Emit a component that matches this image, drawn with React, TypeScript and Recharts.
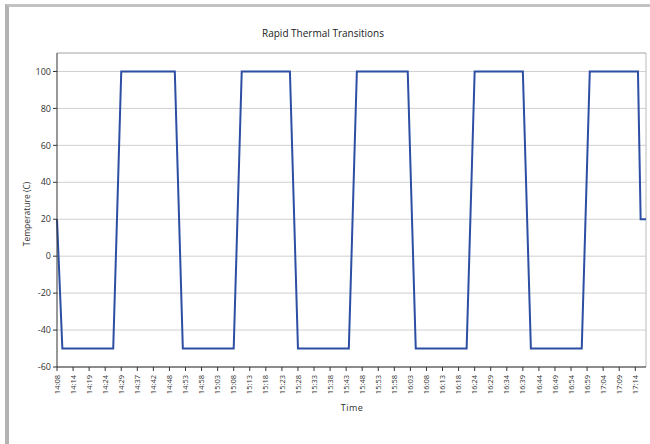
import { CartesianGrid, Line, LineChart, ReferenceLine, XAxis, YAxis } from "recharts";

// time stamps shown on the x axis, one every 6 samples
const timeLabels = [
  "14:08", "14:14", "14:19", "14:24", "14:29", "14:37", "14:42", "14:48", "14:53", "14:58",
  "15:03", "15:08", "15:13", "15:18", "15:23", "15:28", "15:33", "15:38", "15:43", "15:48",
  "15:53", "15:58", "16:03", "16:08", "16:13", "16:18", "16:24", "16:29", "16:34", "16:39",
  "16:44", "16:49", "16:54", "16:59", "17:04", "17:09", "17:14",
];
const samplesPerLabel = 6;

// temperature samples (C)
const temps = [
  20, -15,
  -50, -50, -50, -50, -50, -50, -50, -50, -50, -50, -50, -50, -50, -50, -50, -50, -50, -50, -50, -50,
  0, 50,
  100, 100, 100, 100, 100, 100, 100, 100, 100, 100, 100, 100, 100, 100, 100, 100, 100, 100, 100, 100, 100,
  50, 0,
  -50, -50, -50, -50, -50, -50, -50, -50, -50, -50, -50, -50, -50, -50, -50, -50, -50, -50, -50, -50,
  0, 50,
  100, 100, 100, 100, 100, 100, 100, 100, 100, 100, 100, 100, 100, 100, 100, 100, 100, 100, 100,
  50, 0,
  -50, -50, -50, -50, -50, -50, -50, -50, -50, -50, -50, -50, -50, -50, -50, -50, -50, -50, -50, -50,
  0, 50,
  100, 100, 100, 100, 100, 100, 100, 100, 100, 100, 100, 100, 100, 100, 100, 100, 100, 100, 100, 100,
  50, 0,
  -50, -50, -50, -50, -50, -50, -50, -50, -50, -50, -50, -50, -50, -50, -50, -50, -50, -50, -50, -50,
  0, 50,
  100, 100, 100, 100, 100, 100, 100, 100, 100, 100, 100, 100, 100, 100, 100, 100, 100, 100, 100,
  50, 0,
  -50, -50, -50, -50, -50, -50, -50, -50, -50, -50, -50, -50, -50, -50, -50, -50, -50, -50, -50, -50,
  0, 50,
  100, 100, 100, 100, 100, 100, 100, 100, 100, 100, 100, 100, 100, 100, 100, 100, 100, 100, 100,
  20, 20, 20,
];

const yTicks = [-60, -40, -20, 0, 20, 40, 60, 80, 100];
const yMax = 110;

const data = temps.map((temp, i) => ({ sample: i, temp }));
const xTicks = timeLabels.map((_, i) => i * samplesPerLabel);
const lastSample = temps.length - 1;

const font = "'Open Sans', sans-serif";

function TimeTick({ x, y, payload }: any) {
  return (
    <g transform={`translate(${x},${y})`}>
      <text textAnchor="end" transform="rotate(-90)" dy="0.35em" fontSize={7.5} fill="#333" fontFamily={font}>
        {timeLabels[Math.round(payload.value / samplesPerLabel)]}
      </text>
    </g>
  );
}

export default function App() {
  return (
    <div style={{ position: "relative", width: 650, height: 444, background: "#fff", overflow: "hidden", fontFamily: font }}>
      <style>{"body{margin:0}"}</style>
      <div
        style={{
          position: "absolute",
          left: 5,
          top: 4,
          right: 0,
          bottom: 0,
          borderLeft: "4px solid #b3b3b3",
          borderTop: "3px solid #c2c2c2",
        }}
      />
      <div style={{ position: "absolute", left: 0, top: 26, width: 646, textAlign: "center", fontSize: 10, lineHeight: "14px", color: "#222" }}>
        Rapid Thermal Transitions
      </div>
      <div
        style={{
          position: "absolute",
          left: -23,
          top: 208,
          width: 100,
          height: 12,
          lineHeight: "12px",
          textAlign: "center",
          fontSize: 8.5,
          color: "#333",
          transform: "rotate(-90deg)",
        }}
      >
        Temperature (C)
      </div>
      <div style={{ position: "absolute", left: 302, top: 402, width: 100, textAlign: "center", fontSize: 9, lineHeight: "12px", color: "#333", letterSpacing: 0.5 }}>
        Time
      </div>
      <div style={{ position: "absolute", left: 0, top: 0 }}>
        <LineChart width={650} height={444} data={data} margin={{ top: 53, right: 4, bottom: 0, left: 0 }}>
          <CartesianGrid vertical={false} stroke="#d0d0d0" />
          <ReferenceLine y={yMax} stroke="#bbb" />
          <ReferenceLine x={lastSample} stroke="#bbb" />
          <XAxis
            dataKey="sample"
            type="number"
            domain={[0, lastSample]}
            ticks={xTicks}
            interval={0}
            height={77}
            tickSize={4}
            tickMargin={4}
            tick={<TimeTick />}
            axisLine={{ stroke: "#333" }}
            tickLine={{ stroke: "#333" }}
          />
          <YAxis
            type="number"
            domain={[-60, yMax]}
            ticks={yTicks}
            interval={0}
            width={57}
            tickSize={4}
            tickMargin={2}
            axisLine={{ stroke: "#333" }}
            tickLine={{ stroke: "#333" }}
            tick={{ fill: "#333", fontSize: 9, fontFamily: font }}
          />
          <Line
            type="linear"
            dataKey="temp"
            stroke="#2c4ea3"
            strokeWidth={2}
            dot={false}
            isAnimationActive={false}
          />
        </LineChart>
      </div>
    </div>
  );
}
